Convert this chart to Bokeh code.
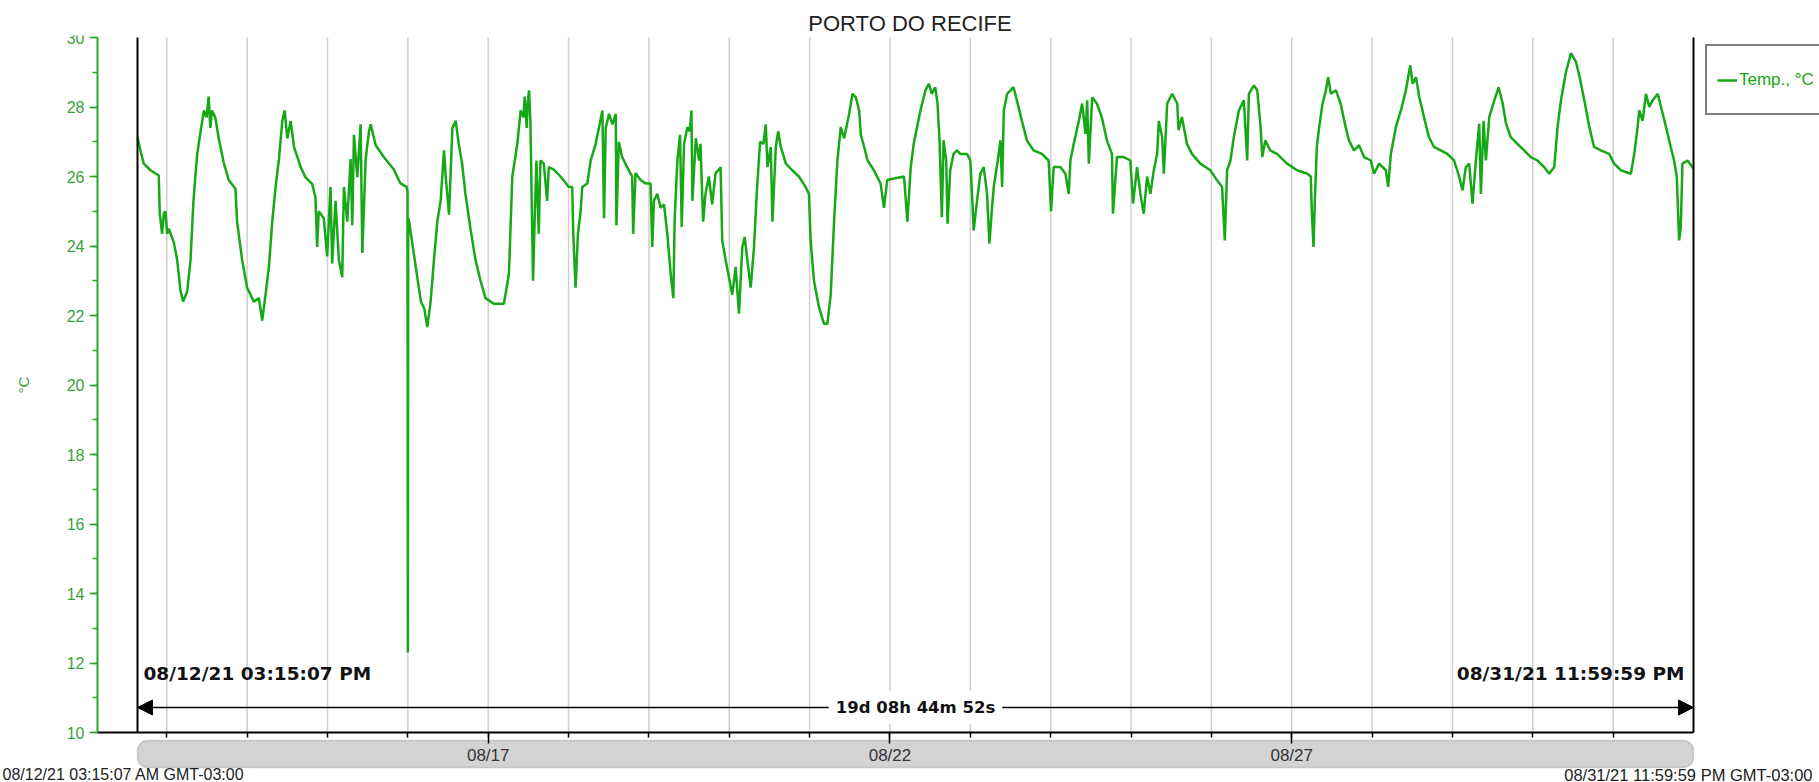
import pandas as pd
from bokeh.plotting import figure
from bokeh.models import (ColumnDataSource, Range1d, FixedTicker, SingleIntervalTicker,
                          DatetimeTickFormatter, DatetimeAxis, LinearAxis, Arrow, NormalHead,
                          Label, BoxAnnotation, Legend, LegendItem)
from bokeh.embed import file_html
from bokeh.resources import INLINE

TITLE = "PORTO DO RECIFE"
SERIES = "Temp., °C"
Y_LABEL = "°C"
BASE = "2021-08-12 00:00:00"
START = "2021-08-12 15:15:07"
END = "2021-08-31 23:59:59"
LEFT_FOOT = "08/12/21 03:15:07 AM GMT-03:00"
RIGHT_FOOT = "08/31/21 11:59:59 PM GMT-03:00"
MAJOR_DAYS = ["2021-08-17", "2021-08-22", "2021-08-27"]
GRID_DAYS = ["2021-08-13", "2021-08-14", "2021-08-15", "2021-08-16", "2021-08-17",
             "2021-08-18", "2021-08-19", "2021-08-20", "2021-08-21", "2021-08-22",
             "2021-08-23", "2021-08-24", "2021-08-25", "2021-08-26", "2021-08-27",
             "2021-08-28", "2021-08-29", "2021-08-30", "2021-08-31"]
Y_MIN, Y_MAX = 10, 30

# hours since 2021-08-12 00:00
hours = [
    15.25, 16.13, 17.12, 19.12, 21.6, 21.9, 22.6, 23.1, 23.6, 24.1, 24.6, 26.1, 27.1, 28.1, 28.9,
    30.1, 31.1, 31.9, 32.6, 33.1, 34.1, 35.1, 35.9, 36.5, 37.0, 37.5, 38.5, 39.5, 41.0, 42.5,
    44.5, 45.0, 46.5, 48.0, 50.0, 51.5, 52.5, 53.5, 54.5, 55.5, 56.5, 57.5, 58.5, 59.2, 60.0,
    61.0, 62.0, 63.0, 64.0, 65.4, 67.4, 68.4, 68.9, 69.4, 70.9, 71.9, 72.9, 73.4, 74.4, 75.4,
    76.4, 76.9, 77.9, 78.9, 79.4, 79.9, 80.9, 81.9, 82.4, 83.4, 84.4, 84.9, 86.4, 88.8, 91.8,
    93.8, 95.6, 95.9, 96.0, 96.1, 96.4, 97.9, 99.9, 100.9, 101.8, 102.8, 103.8, 104.8, 105.8,
    106.8, 107.3, 108.3, 109.3, 110.3, 111.2, 112.2, 113.2, 114.7, 116.2, 117.7, 119.2, 121.7,
    124.7, 126.2, 127.2, 128.7,
    129.7, 130.5, 130.9, 131.5, 131.8, 132.2, 132.6, 133.1, 133.4, 133.8, 134.4, 135.1, 135.6,
    136.6, 137.6, 138.1, 139.6, 141.6, 144.1, 145.1, 145.4, 146.1, 146.8, 147.6, 148.1, 149.6,
    150.6, 152.1, 153.1, 154.1, 154.6, 155.1, 156.1, 157.1, 158.1, 158.3, 159.0, 160.0, 161.5,
    163.0, 163.3, 164.0, 165.5, 167.0, 168.5, 169.0, 169.5, 170.5, 171.5, 172.5, 173.5, 174.5,
    175.3, 175.7, 176.5, 177.3, 177.8, 178.5, 179.5, 180.2, 180.7, 181.0, 182.0, 183.0, 183.4,
    184.2, 184.9, 185.9, 186.9, 187.9, 188.9, 189.4, 189.9, 190.9, 191.9, 192.9, 193.9, 194.9,
    195.9, 196.6, 197.4, 198.4, 199.4, 200.2, 201.2, 202.2, 202.9, 203.4, 204.4, 204.9, 205.9,
    206.6, 207.4, 208.9, 210.8, 212.8, 214.8, 215.8, 216.3, 217.3, 218.8, 220.3, 221.3, 222.3,
    223.3, 224.3, 225.3, 226.3, 227.8, 228.8, 229.8, 230.8, 231.3, 232.3, 233.3, 235.2, 237.2,
    238.2, 239.2, 241.2, 244.2, 245.2, 246.2,
    247.1, 248.1, 249.1, 250.6, 251.6, 252.5, 253.5, 254.2, 254.8, 255.5, 256.0, 256.8, 257.2,
    258.0, 259.0, 260.0, 261.0, 263.0, 264.0, 264.5, 265.0, 266.0, 267.0, 268.0, 269.0, 269.7,
    270.5, 271.0, 272.2, 273.0, 273.5, 274.0, 275.0, 276.0, 276.9, 277.9, 279.4, 280.9, 282.9,
    285.4, 287.4, 288.1, 288.9, 290.9, 292.4, 293.4, 293.9, 294.9, 296.4, 297.4, 298.4, 298.9,
    299.4, 300.4, 301.8, 303.3, 304.8, 306.3, 306.6, 307.8, 309.8, 311.8, 312.6, 313.8, 314.8,
    315.8, 316.8, 317.8, 318.8, 319.8, 320.3, 321.3, 321.8, 322.8, 324.3, 325.8, 326.2, 327.2,
    328.7, 330.2, 332.7, 335.7, 337.7, 339.2, 340.0, 340.7, 341.7, 342.7, 344.2, 345.7, 346.7,
    347.2, 348.7, 349.7, 350.7, 351.2, 352.1, 353.6, 355.6, 358.6, 361.6,
    364.7, 365.7, 366.0, 366.5, 366.9, 367.5, 368.2, 369.2, 370.2, 370.9, 371.7, 373.2, 374.6,
    376.1, 377.1, 378.6, 380.1, 381.6, 383.6, 384.6, 386.1, 388.1, 388.8, 389.6, 391.1, 392.6,
    394.1, 395.4, 396.1, 397.1, 398.1, 399.5, 401.0, 402.5, 404.5, 406.5, 408.5, 410.0, 411.0,
    412.0, 413.0, 414.0, 415.0, 416.0, 416.5, 417.3, 418.0, 419.0, 420.5, 421.8, 423.0, 424.0,
    425.4, 427.4, 429.4, 431.4, 433.4, 435.4, 436.9, 438.4, 439.4, 440.4, 441.9, 443.4, 444.9,
    445.9, 447.4, 448.9, 450.3, 452.3, 454.8, 456.3, 458.3, 461.3, 462.3, 463.3, 463.8, 464.8,
    465.8, 466.8, 467.8, 469.3, 470.3, 471.8, 473.2, 474.2, 475.0, 475.7, 476.2, 476.7, 478.2,
    479.7, 480.0,
]

temps = [
    27.13, 26.75, 26.37, 26.18, 26.03, 24.93, 24.35, 24.93, 25.0, 24.35, 24.5, 24.1, 23.6, 22.7, 22.4,
    22.7, 23.6, 25.2, 26.1, 26.65, 27.3, 27.9, 27.7, 28.3, 27.4, 27.9, 27.7, 27.1, 26.4, 25.9,
    25.65, 24.7, 23.6, 22.8, 22.4, 22.5, 21.85, 22.6, 23.4, 24.7, 25.7, 26.5, 27.6, 27.9, 27.1,
    27.6, 26.85, 26.56, 26.27, 25.98, 25.79, 25.4, 23.97, 25.0, 24.8, 23.7, 25.7, 23.5, 25.3, 23.6,
    23.1, 25.7, 24.7, 26.5, 24.6, 27.2, 25.98, 27.5, 23.8, 26.5, 27.3, 27.5, 26.9, 26.56, 26.2,
    25.8, 25.7, 25.6, 12.3, 24.8, 24.7, 23.7, 22.4, 22.2, 21.67, 22.4, 23.6, 24.7, 25.3,
    26.75, 26.0, 24.9, 27.4, 27.6, 26.94, 26.37, 25.5, 24.5, 23.6, 23.0, 22.5, 22.34,
    22.34, 23.2, 26.0, 26.94,
    27.9, 27.7, 28.3, 27.4, 28.1, 28.48, 27.6, 24.7, 23.0, 24.5, 26.46, 24.35, 26.46,
    26.37, 25.3, 26.27, 26.2, 26.0, 25.7, 25.7, 24.35, 22.8, 24.35, 25.0, 25.7, 25.8,
    26.46, 26.94, 27.42, 27.9, 24.8, 27.4, 27.8, 27.5, 27.8, 24.6, 27.0, 26.56, 26.27,
    26.0, 24.35, 26.1, 25.9, 25.8, 25.8, 23.97, 25.3, 25.5, 25.1, 25.2, 24.35, 23.2,
    22.5, 24.8, 26.46, 27.2, 24.55, 26.94, 27.42, 27.3, 27.9, 25.3, 27.1, 26.46, 26.94,
    24.7, 25.5, 26.0, 25.2, 26.1, 26.2, 26.27, 24.16, 23.6, 23.1, 22.6, 23.4, 22.05,
    23.97, 24.26, 23.6, 22.8, 23.97, 25.5, 27.0, 26.94, 27.5, 26.27, 26.85, 24.7, 26.85,
    27.3, 26.85, 26.37, 26.18, 26.0, 25.7, 25.5, 24.16, 23.0, 22.24, 21.76, 21.76, 22.6,
    24.7, 26.46, 27.42, 27.1, 27.8, 28.38, 28.28, 27.9, 27.2, 26.85, 26.46, 26.18, 25.8,
    25.1, 25.9, 25.94, 26.0, 24.7, 26.27,
    26.94, 27.42, 27.9, 28.48, 28.67, 28.38, 28.57, 28.1, 27.04, 24.83, 27.04, 26.46, 24.64,
    26.18, 26.65, 26.75, 26.65, 26.65, 26.46, 25.5, 24.45, 25.3, 26.08, 26.27, 25.5, 24.07,
    25.12, 25.7, 26.46, 27.04, 25.7, 27.9, 28.38, 28.48, 28.57, 28.19, 27.6, 27.04, 26.75,
    26.65, 26.46, 25.0, 26.27, 26.27, 26.08, 25.5, 26.46, 26.94, 27.6, 28.1, 27.23, 28.19,
    26.37, 28.28, 28.1, 27.7, 27.04, 26.65, 24.93, 26.56, 26.56, 26.46, 25.22, 26.27, 25.5,
    24.93, 26.0, 25.5, 26.18, 26.65, 27.6, 27.13, 26.08, 28.1, 28.38, 28.1, 27.33, 27.71,
    26.94, 26.65, 26.37, 26.18, 25.89, 25.7, 24.16, 26.18, 26.46, 27.13, 27.9, 28.19, 26.46,
    28.38, 28.62, 28.48, 27.42, 26.56, 27.04, 26.75, 26.65, 26.37, 26.18,
    26.08, 26.0, 25.0, 23.97, 25.3, 26.85, 27.42, 28.1, 28.48, 28.86, 28.38, 28.48, 28.1,
    27.42, 27.04, 26.75, 26.9, 26.56, 26.46, 26.08, 26.37, 26.18, 25.7, 26.65, 27.42, 27.9,
    28.48, 29.2, 28.67, 28.86, 28.28, 27.71, 27.13, 26.85, 26.75, 26.65, 26.46, 26.0, 25.6,
    26.27, 26.37, 25.22, 26.46, 27.52, 25.5, 27.6, 26.46, 27.71, 28.19, 28.57, 28.1, 27.52,
    27.13, 26.94, 26.75, 26.56, 26.46, 26.27, 26.08, 26.27, 27.42, 28.19, 29.0, 29.55, 29.3,
    28.9, 28.19, 27.42, 26.85, 26.75, 26.65, 26.37, 26.18, 26.08, 26.65, 27.42, 27.9, 27.6,
    28.38, 28.0, 28.19, 28.38, 28.0, 27.42, 26.85, 26.46, 26.0, 24.16, 24.54, 26.37, 26.46,
    26.27, 26.2,
]

GREEN = "#16a816"
AXIS_GREEN = "#2aa52a"
LABEL_GREEN = "#3aa23a"


def ms(ts):
    return pd.Timestamp(ts).value / 1e6


t0, t1 = ms(START), ms(END)
times = pd.Timestamp(BASE) + pd.to_timedelta(hours, unit="h")
src = ColumnDataSource(dict(x=times, y=temps))

W, H = 1819, 782
TOP = 35                      # title band; the frame fills the rest of the canvas
X0PX, X1PX = 137, 1693        # where START / END sit
YAX_PX = 97                   # y axis position
Y30_PX, Y10_PX = 37, 732      # pixel rows of Y_MAX / Y_MIN

ppm = (X1PX - X0PX) / (t1 - t0)
xr = Range1d(t0 - X0PX / ppm, t1 + (W - X1PX) / ppm)
ypp = (Y10_PX - Y30_PX) / (Y_MAX - Y_MIN)
yr = Range1d(Y_MIN - (H - Y10_PX) / ypp, Y_MAX + (Y30_PX - TOP) / ypp)


def y_at(px):
    return Y_MAX - (px - Y30_PX) / ypp


def x_at(px):
    return t0 + (px - X0PX) / ppm


p = figure(width=W, height=H, x_range=xr, y_range=yr, x_axis_type="datetime",
           x_axis_location=None, y_axis_location=None,
           output_backend="svg", toolbar_location=None,
           min_border_left=0, min_border_right=0, min_border_bottom=0,
           min_border_top=TOP, title=TITLE)
p.outline_line_color = None
p.background_fill_color = "white"
p.border_fill_color = "white"
p.grid.visible = False

p.title.align = "center"
p.title.text_font = "Liberation Sans"
p.title.text_font_size = "22px"
p.title.text_font_style = "normal"
p.title.text_color = "#222222"
p.title.standoff = 0

# y axis
ya = LinearAxis(fixed_location=x_at(YAX_PX), bounds=(Y_MIN, Y_MAX),
                ticker=SingleIntervalTicker(interval=2, num_minor_ticks=2))
ya.axis_line_color = AXIS_GREEN
ya.axis_line_width = 2
ya.major_tick_line_color = AXIS_GREEN
ya.minor_tick_line_color = AXIS_GREEN
ya.major_tick_line_width = 1.5
ya.minor_tick_line_width = 1.5
ya.major_tick_in = 0
ya.minor_tick_in = 0
ya.major_tick_out = 8
ya.minor_tick_out = 5
ya.major_label_text_color = LABEL_GREEN
ya.major_label_text_font = "Liberation Sans"
ya.major_label_text_font_size = "16px"
ya.major_label_standoff = 5
ya.axis_label = Y_LABEL
ya.axis_label_text_color = LABEL_GREEN
ya.axis_label_text_font = "Liberation Sans"
ya.axis_label_text_font_size = "15px"
ya.axis_label_text_font_style = "normal"
ya.axis_label_standoff = 32
p.add_layout(ya, "left")

# x axis
xa = DatetimeAxis(fixed_location=Y_MIN, bounds=(x_at(YAX_PX), t1))
xa.ticker = FixedTicker(ticks=[ms(d) for d in MAJOR_DAYS],
                        minor_ticks=[ms(d) for d in GRID_DAYS])
xa.formatter = DatetimeTickFormatter(days="%m/%d", months="%m/%d", years="%m/%d",
                                     hours="%m/%d", hourmin="%m/%d")
xa.axis_line_color = "black"
xa.axis_line_width = 2
xa.major_tick_line_color = "black"
xa.minor_tick_line_color = "black"
xa.major_tick_line_width = 1.5
xa.minor_tick_line_width = 1.5
xa.major_tick_in = 0
xa.minor_tick_in = 0
xa.major_tick_out = 11
xa.minor_tick_out = 5
xa.major_label_text_font = "Liberation Sans"
xa.major_label_text_font_size = "17px"
xa.major_label_text_color = "#333333"
xa.major_label_standoff = 2
p.add_layout(xa, "below")

# range bar under the axis
bar = BoxAnnotation(left=t0, right=t1, top=y_at(740), bottom=y_at(767),
                    fill_color="#d3d3d3", fill_alpha=1.0, line_color="#7a7a7a",
                    line_width=1.5, border_radius=10, level="underlay")
p.add_layout(bar)

# day grid lines and the start / end cursors
grid_x = [pd.Timestamp(d) for d in GRID_DAYS]
p.segment(x0=grid_x, y0=[Y_MIN] * len(grid_x), x1=grid_x, y1=[Y_MAX] * len(grid_x),
          line_color="#cfcfcf", line_width=1.5)

r = p.line("x", "y", source=src, line_color=GREEN, line_width=2.5)

cur_x = [pd.Timestamp(START), pd.Timestamp(END)]
p.segment(x0=cur_x, y0=[Y_MIN, Y_MIN], x1=cur_x, y1=[Y_MAX, Y_MAX],
          line_color="black", line_width=2)

arrow_y = y_at(707)
p.add_layout(Arrow(start=NormalHead(size=15, fill_color="black", line_color="black"),
                   end=NormalHead(size=15, fill_color="black", line_color="black"),
                   x_start=t0, y_start=arrow_y, x_end=t1, y_end=arrow_y,
                   line_color="black", line_width=1.5))

dur = pd.Timestamp(END) - pd.Timestamp(START)
secs = int(dur.total_seconds())
dur_txt = f"{secs // 86400}d {secs % 86400 // 3600:02d}h {secs % 3600 // 60:02d}m {secs % 60:02d}s"
p.add_layout(Label(x=(t0 + t1) / 2, y=arrow_y, text=dur_txt, text_align="center",
                   text_baseline="middle", text_font="DejaVu Sans", text_font_style="bold",
                   text_font_size="16.5px", text_color="#111111",
                   background_fill_color="white", padding=7))

cur_y = y_at(673)
start_txt = pd.Timestamp(START).strftime("%m/%d/%y %I:%M:%S %p")
end_txt = pd.Timestamp(END).strftime("%m/%d/%y %I:%M:%S %p")
p.add_layout(Label(x=t0, y=cur_y, x_offset=6, text=start_txt, text_align="left",
                   text_baseline="middle", text_font="DejaVu Sans", text_font_style="bold",
                   text_font_size="18.5px", text_color="#111111"))
p.add_layout(Label(x=t1, y=cur_y, x_offset=-9, text=end_txt, text_align="right",
                   text_baseline="middle", text_font="DejaVu Sans", text_font_style="bold",
                   text_font_size="18.5px", text_color="#111111"))

foot_y = y_at(774)
p.add_layout(Label(x=x_at(2), y=foot_y, text=LEFT_FOOT, text_align="left",
                   text_baseline="middle", text_font="Liberation Sans",
                   text_font_size="16px", text_color="#222222"))
p.add_layout(Label(x=x_at(1812), y=foot_y, text=RIGHT_FOOT, text_align="right",
                   text_baseline="middle", text_font="Liberation Sans",
                   text_font_size="16.5px", text_color="#222222"))

legend = Legend(items=[LegendItem(label=SERIES, renderers=[r])],
                location=(1705, H - 115), margin=0, padding=10,
                border_line_color="black", border_line_width=2,
                background_fill_color="white", background_fill_alpha=1.0,
                glyph_width=20, glyph_height=20, label_height=47, label_width=120,
                label_standoff=2, label_text_font="Liberation Sans",
                label_text_font_size="17px", label_text_color=GREEN)
p.add_layout(legend)

open("out.html", "w").write(file_html(p, INLINE))
